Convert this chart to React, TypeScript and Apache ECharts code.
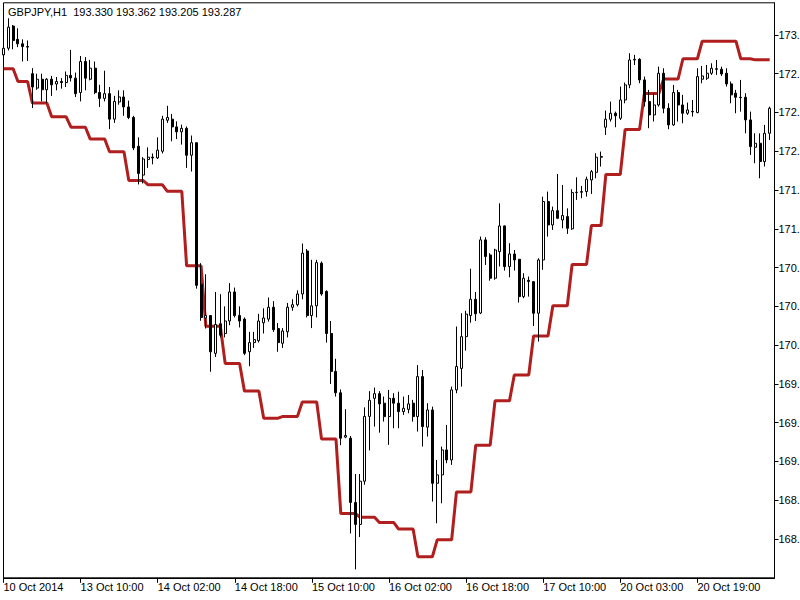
import React, { useEffect, useRef } from "react";
import * as echarts from "echarts";

const TITLE = "GBPJPY,H1  193.330 193.362 193.205 193.287";
const FONT = '"Liberation Sans", Arial, sans-serif';

// Trading sessions of the H1 bars: [day of Oct 2014, first hour, bar count]
const sessions: [number, number, number][] = [
  [10, 18, 6], [13, 0, 24], [14, 0, 24], [15, 0, 24], [16, 0, 24], [17, 0, 23], [20, 0, 24], [21, 0, 11],
];

// Candles: [open, close, low, high]
const candles: [number, number, number, number][] = [
  [172.87, 172.93, 172.85, 172.96], [172.93, 173.12, 172.91, 173.2], [173.13, 173.0, 172.92, 173.14],
  [173.01, 172.97, 172.94, 173.11], [172.97, 172.945, 172.81, 173.01], [172.945, 172.94, 172.815, 173.0],
  [172.7, 172.58, 172.39, 172.75], [172.57, 172.65, 172.555, 172.7], [172.65, 172.555, 172.45, 172.7],
  [172.555, 172.65, 172.435, 172.66], [172.65, 172.6, 172.5, 172.68], [172.607, 172.63, 172.55, 172.67],
  [172.63, 172.62, 172.565, 172.66], [172.62, 172.685, 172.58, 172.72], [172.685, 172.662, 172.63, 172.915],
  [172.66, 172.52, 172.49, 172.71], [172.53, 172.81, 172.45, 172.86], [172.81, 172.66, 172.55, 172.85],
  [172.65, 172.75, 172.64, 172.825], [172.75, 172.53, 172.516, 172.81], [172.53, 172.477, 172.4, 172.6],
  [172.477, 172.52, 172.45, 172.727], [172.52, 172.29, 172.2, 172.58], [172.29, 172.45, 172.256, 172.5],
  [172.445, 172.49, 172.42, 172.55], [172.49, 172.4, 172.32, 172.55], [172.4, 172.305, 172.29, 172.457],
  [172.305, 172.03, 172.01, 172.32], [172.045, 171.8, 171.7, 172.126], [171.785, 171.93, 171.71, 171.947],
  [171.925, 171.947, 171.85, 172.035], [171.947, 171.94, 171.882, 171.98], [171.94, 172.01, 171.93, 172.126],
  [172.0, 172.29, 171.98, 172.32], [172.28, 172.305, 172.256, 172.41], [172.29, 172.22, 172.09, 172.337],
  [172.22, 172.175, 172.11, 172.27], [172.175, 172.207, 172.06, 172.24], [172.207, 171.964, 171.85, 172.224],
  [171.964, 172.077, 171.817, 172.142], [172.077, 170.79, 170.76, 172.08], [170.8, 170.5, 170.47, 170.99],
  [170.495, 170.517, 170.4, 170.89], [170.517, 170.19, 170.01, 170.52], [170.176, 170.436, 170.143, 170.73],
  [170.443, 170.34, 170.32, 170.71], [170.355, 170.468, 170.32, 170.6], [170.468, 170.73, 170.43, 170.81],
  [170.73, 170.517, 170.5, 170.77], [170.517, 170.468, 170.41, 170.6], [170.485, 170.176, 170.16, 170.5],
  [170.19, 170.273, 170.06, 170.37], [170.273, 170.3, 170.225, 170.37], [170.29, 170.468, 170.273, 170.533],
  [170.452, 170.495, 170.355, 170.582], [170.485, 170.592, 170.462, 170.68], [170.592, 170.39, 170.37, 170.647],
  [170.4, 170.273, 170.19, 170.45], [170.267, 170.378, 170.225, 170.404], [170.371, 170.592, 170.32, 170.631],
  [170.592, 170.615, 170.56, 170.664], [170.615, 170.712, 170.6, 170.745], [170.712, 171.08, 170.664, 171.167],
  [171.1, 170.517, 170.5, 171.118], [170.517, 170.605, 170.404, 171.02], [170.605, 170.995, 170.5, 171.02],
  [170.99, 170.712, 170.696, 171.005], [170.735, 170.355, 170.273, 170.745], [170.355, 170.013, 169.9, 170.468],
  [170.013, 169.82, 169.786, 170.127], [169.82, 169.41, 169.347, 169.85], [169.42, 169.435, 169.41, 169.672],
  [169.41, 168.83, 168.55, 169.43], [168.83, 168.632, 168.226, 169.087], [168.632, 169.022, 168.518, 169.087],
  [169.022, 169.607, 168.99, 169.688], [169.607, 169.753, 169.3, 169.835], [169.77, 169.812, 169.515, 169.867],
  [169.812, 169.72, 169.46, 169.835], [169.726, 169.605, 169.56, 169.786], [169.605, 169.77, 169.35, 169.846],
  [169.77, 169.726, 169.5, 169.816], [169.726, 169.65, 169.5, 169.83], [169.65, 169.68, 169.62, 169.786],
  [169.67, 169.72, 169.635, 169.8], [169.726, 169.605, 169.56, 169.756], [169.605, 169.966, 169.47, 170.07],
  [169.966, 169.515, 169.335, 170.026], [169.51, 169.665, 169.425, 169.726], [169.665, 169.003, 168.838, 169.695],
  [169.003, 169.079, 168.642, 169.214], [169.079, 169.304, 168.823, 169.334], [169.304, 169.214, 169.184, 169.53],
  [169.214, 169.846, 169.169, 169.876], [169.846, 170.057, 169.816, 170.418], [170.04, 170.327, 169.876, 170.538],
  [170.327, 170.53, 170.2, 170.56], [170.517, 170.664, 170.452, 170.94], [170.664, 170.533, 170.468, 170.73],
  [170.54, 171.2, 170.53, 171.23], [171.2, 171.05, 170.974, 171.224], [171.064, 170.854, 170.832, 171.08],
  [170.854, 171.109, 170.84, 171.12], [171.094, 171.326, 170.96, 171.53], [171.326, 170.959, 170.923, 171.33],
  [170.959, 171.073, 170.863, 171.17], [171.073, 171.019, 170.923, 171.109], [171.025, 170.688, 170.634, 171.025],
  [170.688, 170.854, 170.673, 170.899], [170.835, 170.825, 170.688, 170.869], [170.823, 170.538, 170.423, 170.826],
  [170.538, 171.019, 170.282, 171.034], [171.019, 171.546, 170.93, 171.59], [171.546, 171.335, 171.23, 171.636],
  [171.335, 171.464, 171.29, 171.5], [171.464, 171.395, 171.39, 171.795], [171.38, 171.42, 171.305, 171.696],
  [171.41, 171.305, 171.254, 171.485], [171.3, 171.627, 171.29, 171.657], [171.627, 171.63, 171.561, 171.765],
  [171.63, 171.636, 171.576, 171.687], [171.636, 171.747, 171.591, 171.771], [171.741, 171.816, 171.615, 171.831],
  [171.81, 171.946, 171.756, 171.982], [171.946, 171.952, 171.862, 171.997], [172.217, 172.289, 172.147, 172.367],
  [172.289, 172.343, 172.268, 172.448], [172.343, 172.32, 172.217, 172.358], [172.298, 172.463, 172.283, 172.584],
  [172.463, 172.599, 172.433, 172.62], [172.599, 172.824, 172.569, 172.885], [172.824, 172.83, 172.779, 172.87],
  [172.83, 172.644, 172.614, 172.84], [172.644, 172.448, 172.403, 172.674], [172.448, 172.328, 172.208, 172.554],
  [172.328, 172.418, 172.268, 172.524], [172.418, 172.704, 172.403, 172.764], [172.704, 172.388, 172.343, 172.749],
  [172.388, 172.238, 172.199, 172.433], [172.238, 172.53, 172.229, 172.599], [172.53, 172.418, 172.268, 172.554],
  [172.418, 172.343, 172.253, 172.509], [172.343, 172.373, 172.328, 172.439], [172.36, 172.356, 172.313, 172.463],
  [172.349, 172.674, 172.343, 172.749], [172.65, 172.68, 172.614, 172.77], [172.659, 172.704, 172.644, 172.779],
  [172.704, 172.749, 172.689, 172.794], [172.745, 172.74, 172.689, 172.824], [172.74, 172.698, 172.68, 172.764],
  [172.704, 172.608, 172.584, 172.749], [172.608, 172.509, 172.433, 172.629], [172.524, 172.487, 172.343, 172.554],
  [172.487, 172.484, 172.358, 172.644], [172.487, 172.283, 172.162, 172.524], [172.283, 172.042, 171.967, 172.358],
  [172.036, 172.072, 171.892, 172.162], [172.072, 171.907, 171.756, 172.162], [171.907, 172.162, 171.862, 172.238],
  [172.162, 172.388, 172.102, 172.403],
];

// Red step indicator, one value per bar
const stepLine: number[] = [
  172.744, 172.744, 172.744, 172.63, 172.63, 172.63,
  172.435, 172.435, 172.435, 172.435, 172.311, 172.311, 172.311, 172.311,
  172.217, 172.217, 172.217, 172.217, 172.11, 172.11, 172.11, 172.11,
  171.996, 171.996, 171.996, 171.996, 171.736, 171.736, 171.736, 171.736,
  171.697, 171.697, 171.697, 171.697, 171.638, 171.638, 171.638, 171.638,
  170.966, 170.966, 170.966, 170.966, 170.42, 170.42, 170.42, 170.42,
  170.085, 170.085, 170.085, 170.085, 169.835, 169.835, 169.835, 169.835,
  169.591, 169.591, 169.591, 169.591, 169.607, 169.607, 169.607, 169.607,
  169.737, 169.737, 169.737, 169.737, 169.402, 169.402, 169.402, 169.402,
  168.73, 168.73, 168.73, 168.73, 168.697, 168.697, 168.697, 168.697,
  168.649, 168.649, 168.649, 168.649, 168.59, 168.59, 168.59, 168.59,
  168.34, 168.34, 168.34, 168.34, 168.493, 168.493, 168.493, 168.493,
  168.925, 168.925, 168.925, 168.925, 169.347, 169.347, 169.347, 169.347,
  169.747, 169.747, 169.747, 169.747, 169.981, 169.981, 169.981, 169.981,
  170.332, 170.332, 170.332, 170.332, 170.605, 170.605, 170.605, 170.605,
  170.979, 170.979, 170.979, 170.979, 171.33, 171.33, 171.33,
  171.791, 171.791, 171.791, 171.791, 172.197, 172.197, 172.197, 172.197,
  172.522, 172.522, 172.522, 172.522, 172.653, 172.653, 172.653, 172.653,
  172.835, 172.835, 172.835, 172.835,
  172.994, 172.994, 172.994, 172.994, 172.994, 172.994, 172.994, 172.994,
  172.835, 172.835, 172.835, 172.825, 172.825, 172.825, 172.825,
];

const Y_MIN = 168.15;
const Y_MAX = 173.34;
const Y_STEP = 0.35;
const LABEL_EVERY = 16;
const FIRST_LABEL = "10 Oct 2014";

function buildCategories(): string[] {
  const out: string[] = [];
  sessions.forEach(([day, h0, n]) => {
    for (let k = 0; k < n; k++) {
      const h = h0 + k;
      out.push(`${day} Oct ${h < 10 ? "0" + h : h}:00`);
    }
  });
  out.push("");
  return out;
}

// The price scale shows only what fits in the window: the integer part and its point
const priceLabel = (v: number) => `${Math.floor(v + 1e-9)}.`;

export default function App() {
  const ref = useRef<HTMLDivElement>(null);
  useEffect(() => {
    if (!ref.current) return;
    const chart = echarts.init(ref.current, null, { renderer: "svg" });
    const categories = buildCategories();
    const nBars = candles.length;
    const showAt = (i: number) => i % LABEL_EVERY === 0 && i < nBars;
    chart.setOption({
      animation: false,
      backgroundColor: "#ffffff",
      textStyle: { fontFamily: FONT },
      grid: {
        left: 3.5, right: 25.5, top: 2.8, bottom: 22.2,
        containLabel: false,
        outerBoundsMode: "none",
        show: true, borderColor: "#000", borderWidth: 1, backgroundColor: "transparent",
      },
      xAxis: {
        type: "category",
        data: categories,
        boundaryGap: false,
        axisLine: { show: true, lineStyle: { color: "#000", width: 1 } },
        axisTick: { show: true, length: 5, interval: (i: number) => showAt(i), lineStyle: { color: "#000" } },
        axisLabel: {
          interval: (i: number) => showAt(i),
          formatter: (v: string, i: number) => (i === 0 ? FIRST_LABEL : v),
          color: "#000", fontSize: 11, fontFamily: FONT, align: "left", margin: 4,
        },
        splitLine: { show: false },
      },
      yAxis: {
        type: "value",
        position: "right",
        min: Y_MIN, max: Y_MAX, interval: Y_STEP,
        axisLine: { show: true, lineStyle: { color: "#000", width: 1 } },
        axisTick: { show: true, length: 4, lineStyle: { color: "#000" } },
        axisLabel: {
          color: "#000", fontSize: 11, fontFamily: FONT, margin: 4,
          showMinLabel: false, showMaxLabel: false,
          formatter: priceLabel,
        },
        splitLine: { show: false },
      },
      series: [
        {
          type: "line",
          data: stepLine,
          symbol: "none",
          showSymbol: false,
          lineStyle: { color: "#B01E1E", width: 3 },
          z: 1,
          silent: true,
        },
        {
          type: "candlestick",
          data: candles.map((c) => [c[0], c[1], c[2], c[3]]),
          barWidth: 2.5,
          itemStyle: { color: "#ffffff", color0: "#000000", borderColor: "#000000", borderColor0: "#000000", borderWidth: 1 },
          z: 2,
          silent: true,
        },
      ],
      graphic: [
        {
          type: "text",
          left: 8,
          top: 6,
          style: { text: TITLE, fill: "#000", font: `11px ${FONT}` },
        },
      ],
    });
    return () => chart.dispose();
  }, []);
  return (
    <div
      ref={ref}
      style={{ position: "fixed", left: 0, top: 0, width: 800, height: 600, background: "#fff" }}
    />
  );
}
